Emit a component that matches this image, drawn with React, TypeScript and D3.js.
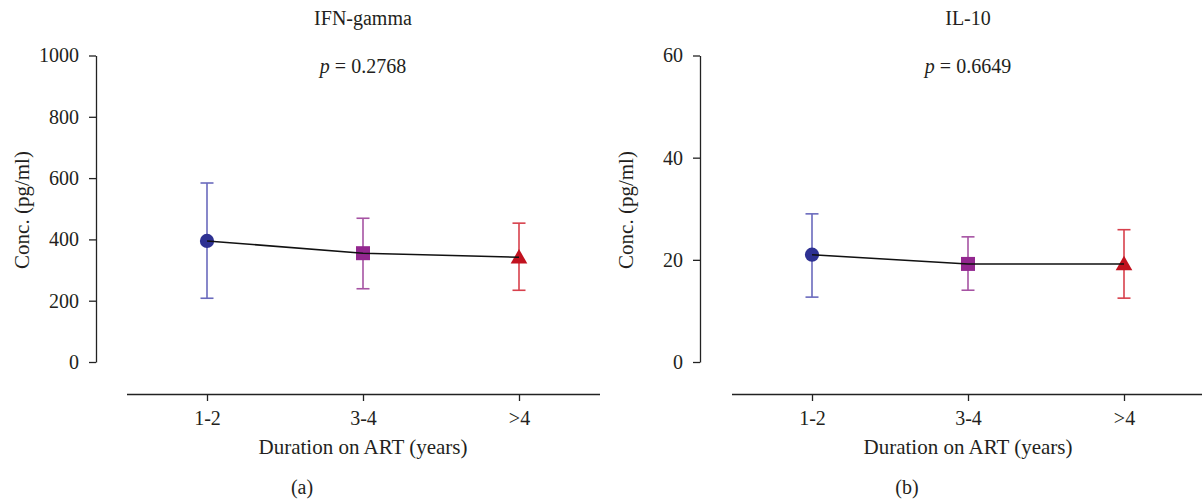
import React, { useEffect, useRef } from "react";
import * as d3 from "d3";

const categories = ["1-2", "3-4", ">4"];
const ifnMean = [395, 355, 342];
const ifnLow = [208, 239, 234];
const ifnHigh = [584, 469, 453];
const il10Mean = [21.0, 19.2, 19.2];
const il10Low = [12.7, 14.05, 12.5];
const il10High = [29.0, 24.5, 25.9];
const ifnTicks = [0, 200, 400, 600, 800, 1000];
const il10Ticks = [0, 20, 40, 60];
const colors = ["#2E3192", "#93278F", "#C1121F"];
const barColors = ["#6A6ABD", "#A653A3", "#D7404C"];
const shapes = [d3.symbolCircle, d3.symbolSquare, d3.symbolTriangle];

const FONT = "'Liberation Serif', 'Times New Roman', serif";

interface Panel {
  title: string;
  p: string;
  tag: string;
  mean: number[];
  low: number[];
  high: number[];
  ticks: number[];
  ymax: number;
  x0: number;
  xs: [number, number];
}

const panels: Panel[] = [
  { title: "IFN-gamma", p: "0.2768", tag: "(a)", mean: ifnMean, low: ifnLow, high: ifnHigh, ticks: ifnTicks, ymax: 1000, x0: 96, xs: [207, 519] },
  { title: "IL-10", p: "0.6649", tag: "(b)", mean: il10Mean, low: il10Low, high: il10High, ticks: il10Ticks, ymax: 60, x0: 700, xs: [812, 1124] },
];

export default function App() {
  const ref = useRef<SVGSVGElement>(null);
  useEffect(() => {
    const svg = d3.select(ref.current);
    svg.selectAll("*").remove();
    const fs = 20;
    const fsl = 21;
    panels.forEach((P) => {
      const g = svg.append("g");
      const y = d3.scaleLinear().domain([0, P.ymax]).range([362, 55.5]);
      const x = d3.scalePoint<string>().domain(categories).range(P.xs);
      const mid = x(categories[1])!;

      const ya = g.append("g").attr("transform", `translate(${P.x0},0)`)
        .call(d3.axisLeft(y).tickValues(P.ticks).tickSize(7).tickSizeOuter(0).tickPadding(10).tickFormat(d3.format("d")));
      ya.select(".domain").attr("stroke", "#222").attr("stroke-width", 1.3);
      ya.selectAll(".tick line").attr("stroke", "#222").attr("stroke-width", 1.3);
      ya.selectAll(".tick text").attr("font-family", FONT).attr("font-size", fs).attr("fill", "#231f20");

      const xa = g.append("g").attr("transform", `translate(0,394)`)
        .call(d3.axisBottom(x).tickSize(7).tickSizeOuter(0).tickPadding(10));
      xa.select(".domain").attr("d", `M${P.xs[0] - 80},0.5H${P.xs[1] + 81}`).attr("stroke", "#222").attr("stroke-width", 1.3);
      xa.selectAll(".tick line").attr("stroke", "#222").attr("stroke-width", 1.3);
      xa.selectAll(".tick text").attr("font-family", FONT).attr("font-size", fs).attr("fill", "#231f20");

      g.append("text").attr("x", mid).attr("y", 454).attr("text-anchor", "middle")
        .attr("font-family", FONT).attr("font-size", fsl).attr("fill", "#231f20").text("Duration on ART (years)");
      g.append("text").attr("x", mid - 61).attr("y", 494).attr("text-anchor", "middle")
        .attr("font-family", FONT).attr("font-size", fs).attr("fill", "#231f20").text(P.tag);
      g.append("text").attr("x", mid).attr("y", 25).attr("text-anchor", "middle")
        .attr("font-family", FONT).attr("font-size", fs).attr("fill", "#231f20").text(P.title);
      const pt = g.append("text").attr("x", mid).attr("y", 73).attr("text-anchor", "middle")
        .attr("font-family", FONT).attr("font-size", fs).attr("fill", "#231f20");
      pt.append("tspan").attr("font-style", "italic").text("p");
      pt.append("tspan").text(" = " + P.p);
      g.append("text").attr("transform", `translate(${P.x0 - 67},210) rotate(-90)`).attr("text-anchor", "middle")
        .attr("font-family", FONT).attr("font-size", fsl).attr("fill", "#231f20").text("Conc. (pg/ml)");

      categories.forEach((c, i) => {
        const cx = x(c)!;
        const eb = g.append("g").attr("stroke", barColors[i]).attr("stroke-width", 1.6);
        eb.append("line").attr("x1", cx).attr("x2", cx).attr("y1", y(P.low[i])).attr("y2", y(P.high[i]));
        eb.append("line").attr("x1", cx - 6.5).attr("x2", cx + 6.5).attr("y1", y(P.low[i])).attr("y2", y(P.low[i]));
        eb.append("line").attr("x1", cx - 6.5).attr("x2", cx + 6.5).attr("y1", y(P.high[i])).attr("y2", y(P.high[i]));
      });

      categories.forEach((c, i) => {
        const sz = i === 0 ? 160 : i === 1 ? 196 : 120;
        const dy = i === 2 ? 1.5 : 0;
        g.append("path").attr("d", d3.symbol().type(shapes[i]).size(sz)()!)
          .attr("transform", `translate(${x(c)},${y(P.mean[i]) + dy})`).attr("fill", colors[i]);
      });

      const line = d3.line<number>().x((_, i) => x(categories[i])!).y((d) => y(d));
      g.append("path").attr("d", line(P.mean)!).attr("fill", "none").attr("stroke", "#111").attr("stroke-width", 1.5);
    });
  }, []);
  return <svg ref={ref} width={1202} height={501} style={{ display: "block", position: "absolute", left: 0, top: 0, background: "#fff" }} />;
}
